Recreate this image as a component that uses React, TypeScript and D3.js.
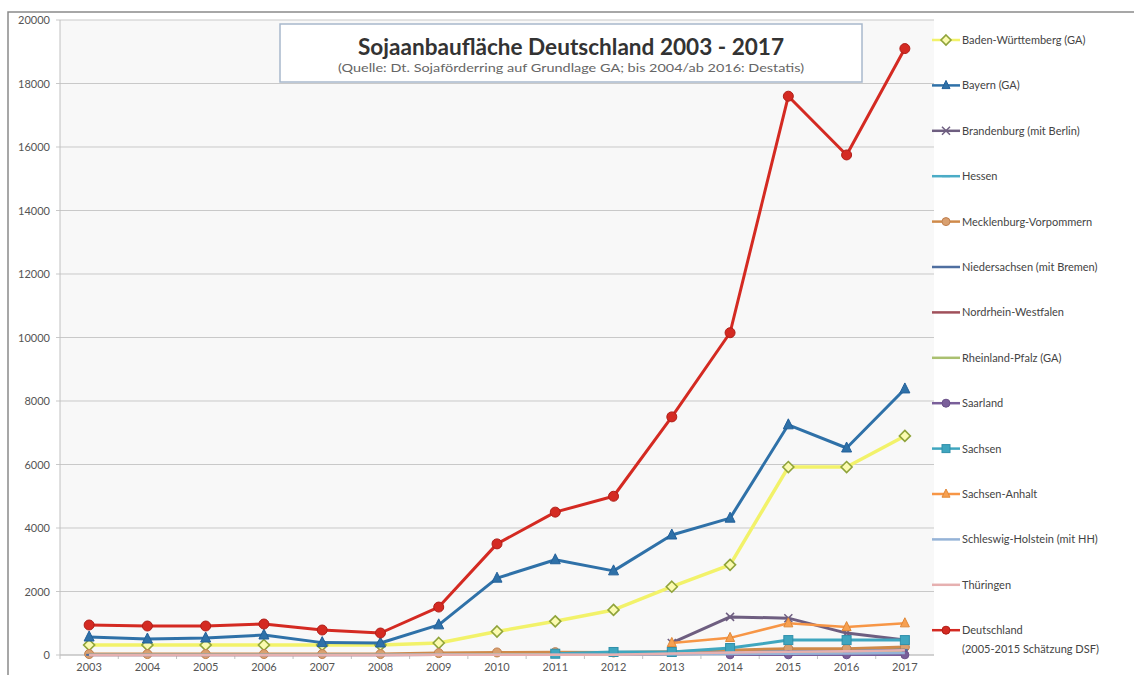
import React from "react";
import * as d3 from "d3";

const years = ["2003","2004","2005","2006","2007","2008","2009","2010","2011","2012","2013","2014","2015","2016","2017"];
const yTicks = [0, 2000, 4000, 6000, 8000, 10000, 12000, 14000, 16000, 18000, 20000];

const badenWuerttemberg = [315, 315, 315, 315, 315, 315, 378, 740, 1060, 1420, 2150, 2840, 5920, 5920, 6900];
const bayern = [567, 504, 535, 630, 390, 378, 950, 2420, 3000, 2650, 3780, 4310, 7250, 6520, 8380];
const brandenburg = [null, null, null, null, null, null, null, null, null, null, 380, 1200, 1160, 690, 470];
const hessen = [10, 10, 10, 10, 10, 10, 20, 30, 40, 40, 60, 80, 150, 150, 200];
const mecklenburg = [30, 30, 30, 30, 30, 30, 60, 80, 90, 80, 100, 150, 200, 200, 250];
const niedersachsen = [5, 5, 5, 5, 5, 5, 10, 15, 20, 20, 40, 80, 100, 120, 160];
const nordrhein = [0, 0, 0, 0, 0, 0, 5, 10, 10, 10, 30, 50, 80, 100, 130];
const rheinland = [10, 10, 10, 10, 10, 10, 15, 20, 25, 25, 40, 60, 80, 100, 120];
const saarland = [null, null, null, null, null, null, null, null, null, null, null, 5, 5, 5, 5];
const sachsen = [null, null, null, null, null, null, null, null, 40, 95, 95, 220, 470, 470, 470];
const sachsenAnhalt = [null, null, null, null, null, null, null, null, null, null, 380, 540, 1000, 880, 1000];
const schleswig = [0, 0, 0, 0, 0, 0, 5, 10, 10, 10, 20, 30, 40, 50, 60];
const thueringen = [0, 0, 0, 0, 0, 0, 5, 10, 10, 10, 50, 80, 100, 120, 150];
const deutschland = [945, 913, 913, 976, 787, 693, 1510, 3500, 4500, 5000, 7500, 10150, 17600, 15750, 19100];

const seriesNames = [
  "Baden-Württemberg (GA)", "Bayern (GA)", "Brandenburg (mit Berlin)", "Hessen",
  "Mecklenburg-Vorpommern", "Niedersachsen (mit Bremen)", "Nordrhein-Westfalen",
  "Rheinland-Pfalz (GA)", "Saarland", "Sachsen", "Sachsen-Anhalt",
  "Schleswig-Holstein (mit HH)", "Thüringen", "Deutschland",
];
const seriesValues = [
  badenWuerttemberg, bayern, brandenburg, hessen, mecklenburg, niedersachsen, nordrhein,
  rheinland, saarland, sachsen, sachsenAnhalt, schleswig, thueringen, deutschland,
];

type Style = { color: string; marker: string; mFill: string; mStroke: string; width: number; size: number };
const styles: Style[] = [
  { color: "#f2f26a", marker: "diamond", mFill: "#fbfbb0", mStroke: "#8fa33a", width: 3.5, size: 4.5 },
  { color: "#2f71a8", marker: "triangle", mFill: "#2f71a8", mStroke: "#22609a", width: 3, size: 5 },
  { color: "#6e5e80", marker: "x", mFill: "none", mStroke: "#6e5e80", width: 3, size: 4 },
  { color: "#4bacc6", marker: "dash", mFill: "#4bacc6", mStroke: "#4bacc6", width: 2.5, size: 4 },
  { color: "#cf8a4a", marker: "circle", mFill: "#d9a070", mStroke: "#c08050", width: 3, size: 4.5 },
  { color: "#4f6fa0", marker: "dash", mFill: "#4f6fa0", mStroke: "#4f6fa0", width: 2.5, size: 3 },
  { color: "#a0505a", marker: "none", mFill: "none", mStroke: "none", width: 2.5, size: 0 },
  { color: "#aac070", marker: "none", mFill: "none", mStroke: "none", width: 2.5, size: 0 },
  { color: "#7a5f9a", marker: "circle", mFill: "#7a5f9a", mStroke: "#6a5088", width: 2.5, size: 4 },
  { color: "#3fa6bf", marker: "square", mFill: "#3fa6bf", mStroke: "#3090aa", width: 3, size: 4.5 },
  { color: "#f79646", marker: "triangle", mFill: "#f7a050", mStroke: "#e08838", width: 2.5, size: 4.5 },
  { color: "#95b3d7", marker: "none", mFill: "none", mStroke: "none", width: 2.5, size: 0 },
  { color: "#e6b0b0", marker: "none", mFill: "none", mStroke: "none", width: 2.5, size: 0 },
  { color: "#d42a22", marker: "circle", mFill: "#d42a22", mStroke: "#b01e18", width: 3, size: 5 },
];

const W = 1134, H = 675;
const plot = { left: 60, right: 934, top: 20, bottom: 655 };

function Marker({ type, x, y, s, fill, stroke }: { type: string; x: number; y: number; s: number; fill: string; stroke: string }) {
  if (type === "circle") return <circle cx={x} cy={y} r={s} fill={fill} stroke={stroke} strokeWidth={1} />;
  if (type === "square") return <rect x={x - s} y={y - s} width={2 * s} height={2 * s} fill={fill} stroke={stroke} strokeWidth={1} />;
  if (type === "diamond") return <path d={`M${x},${y - s - 1}L${x + s + 1},${y}L${x},${y + s + 1}L${x - s - 1},${y}Z`} fill={fill} stroke={stroke} strokeWidth={1.6} />;
  if (type === "triangle") return <path d={`M${x},${y - s - 1}L${x + s},${y + s * 0.8}L${x - s},${y + s * 0.8}Z`} fill={fill} stroke={stroke} strokeWidth={1} />;
  if (type === "x") return <path d={`M${x - s},${y - s}L${x + s},${y + s}M${x - s},${y + s}L${x + s},${y - s}`} stroke={stroke} strokeWidth={1.5} fill="none" />;
  if (type === "dash") return <path d={`M${x - s},${y}L${x + s},${y}`} stroke={stroke} strokeWidth={2} />;
  return null;
}

export default function App() {
  const x = d3.scaleBand<string>().domain(years).range([plot.left, plot.right]);
  const y = d3.scaleLinear().domain([0, 20000]).range([plot.bottom, plot.top]);
  const cx = (yr: string) => (x(yr) as number) + x.bandwidth() / 2;
  const line = d3.line<[string, number | null]>()
    .defined((d) => d[1] !== null)
    .x((d) => cx(d[0]))
    .y((d) => y(d[1] as number));

  const legendTop = 40;
  const legendStep = 45.4;
  const font = "Lato, 'Open Sans', sans-serif";

  return (
    <svg width={W} height={H} style={{ position: "absolute", left: 0, top: 0, background: "#fff" }}>
      <rect x={0} y={0} width={W} height={H} fill="#fff" />
      <path d={`M8,${H}L8,12L${W},12`} fill="none" stroke="#8a8a8a" strokeWidth={1.5} />
      <rect x={plot.left} y={plot.top} width={plot.right - plot.left} height={plot.bottom - plot.top} fill="#f8f8f8" />
      {yTicks.map((t) => (
        <line key={"g" + t} x1={plot.left - 4} x2={plot.right} y1={y(t)} y2={y(t)} stroke="#c9c9c9" strokeWidth={1} />
      ))}
      <line x1={plot.left} x2={plot.left} y1={plot.top} y2={plot.bottom} stroke="#c0c0c0" strokeWidth={1} />
      <line x1={plot.left} x2={plot.right} y1={plot.bottom} y2={plot.bottom} stroke="#c0c0c0" strokeWidth={1} />
      {years.map((yr) => (
        <line key={"t" + yr} x1={x(yr) as number} x2={x(yr) as number} y1={plot.bottom} y2={plot.bottom + 4} stroke="#c0c0c0" />
      ))}
      {yTicks.map((t) => (
        <text key={"yl" + t} x={50} y={y(t) + 4} textAnchor="end" fontSize={11} fill="#555" fontFamily={font}>{t}</text>
      ))}
      {years.map((yr) => (
        <text key={"xl" + yr} x={cx(yr)} y={671} textAnchor="middle" fontSize={11} fill="#555" fontFamily={font}>{yr}</text>
      ))}
      {seriesValues.map((vals, i) => {
        const st = styles[i];
        const pts = years.map((yr, j) => [yr, vals[j]] as [string, number | null]);
        return (
          <g key={"s" + i}>
            <path d={line(pts) || ""} fill="none" stroke={st.color} strokeWidth={st.width} strokeLinejoin="round" />
            {pts.filter((p) => p[1] !== null).map((p) => (
              <Marker key={p[0]} type={st.marker} x={cx(p[0])} y={y(p[1] as number)} s={st.size} fill={st.mFill} stroke={st.mStroke} />
            ))}
          </g>
        );
      })}
      <rect x={280} y={24} width={582} height={58} fill="#fff" stroke="#a8b8cc" strokeWidth={1.5} />
      <text x={571} y={55} textAnchor="middle" fontSize={22} fontWeight="bold" fill="#333" fontFamily={font} textLength={426} lengthAdjust="spacingAndGlyphs">Sojaanbaufläche Deutschland 2003 - 2017</text>
      <text x={571} y={72} textAnchor="middle" fontSize={12} fill="#666" fontFamily={font} textLength={466} lengthAdjust="spacingAndGlyphs">(Quelle: Dt. Sojaförderring auf Grundlage GA; bis 2004/ab 2016: Destatis)</text>
      {seriesNames.map((name, i) => {
        const st = styles[i];
        const ly = legendTop + i * legendStep;
        const lines = name === "Deutschland" ? ["Deutschland", "(2005-2015 Schätzung DSF)"] : [name];
        return (
          <g key={"l" + i}>
            <line x1={932} x2={960} y1={ly} y2={ly} stroke={st.color} strokeWidth={2.5} />
            <Marker type={st.marker} x={946} y={ly} s={Math.min(st.size, 4)} fill={st.mFill} stroke={st.mStroke} />
            {lines.map((t, k) => (
              <text key={k} x={962} y={ly + 4 + k * 19} fontSize={11} fill="#444" fontFamily={font}>{t}</text>
            ))}
          </g>
        );
      })}
    </svg>
  );
}
